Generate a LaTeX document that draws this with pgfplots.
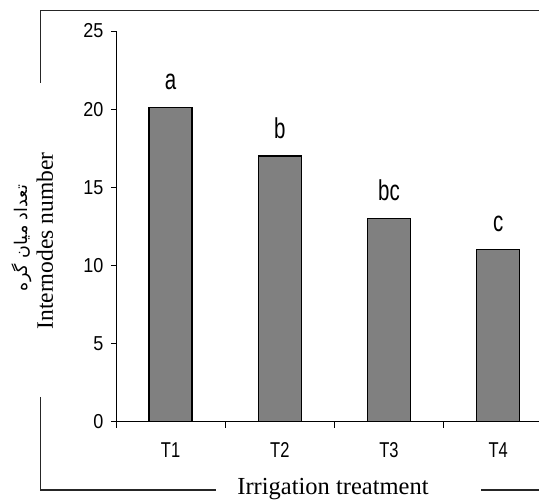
\documentclass[border=0pt]{standalone}
\usepackage{fontspec}
\setmainfont{Liberation Serif}
\newfontfamily\arialf{Liberation Sans}
\newfontfamily\arabicfont[Script=Arabic]{DejaVu Sans}
\TeXXeTstate=1
\usepackage{graphicx}
\usepackage{pgfplots}
\pgfplotsset{compat=1.18}
\definecolor{barfill}{HTML}{808080}
\definecolor{framec}{HTML}{262626}

\begin{document}
\begin{tikzpicture}[x=1pt,y=1pt]
\begin{axis}[
    name=ax,
    scale only axis,
    width=436.8pt, height=390.7pt,
    xmin=0.5, xmax=4.5,
    ymin=0, ymax=25,
    axis x line=bottom, axis y line=left,
    axis line style={-, line width=0.9pt, black},
    ybar, bar width=43pt,
    xtick={1,2,3,4},
    xticklabels={\scalebox{1}[1.3]{T1},\scalebox{1}[1.3]{T2},\scalebox{1}[1.3]{T3},\scalebox{1}[1.3]{T4}},
    minor xtick={0.5,1.5,2.5,3.5,4.5},
    major x tick style={draw=none},
    ytick={0,5,10,15,20,25},
    yticklabel={\scalebox{1}[1.12]{\pgfmathprintnumber{\tick}}},
    tick align=outside,
    major tick length=5pt,
    minor tick length=6pt,
    tick style={black, line width=0.9pt},
    /pgf/number format/assume math mode=true,
    yticklabel style={font=\arialf\fontsize{18}{18}\selectfont, xshift=-4pt},
    xticklabel style={font=\arialf\fontsize{16.5}{17}\selectfont, anchor=base, yshift=-31pt},
]
\coordinate (O) at (axis cs:0.5,0);
\addplot[fill=barfill, draw=black, line width=1.2pt,
    nodes near coords={\scalebox{1}[1.4]{\pgfplotspointmeta}},
    point meta=explicit symbolic,
    every node near coord/.append style={font=\arialf\fontsize{20.5}{21}\selectfont, anchor=base, inner sep=0, yshift=18pt}]
coordinates {(1,20.1)[a] (2,17)[b] (3,13)[bc] (4,11)[c]};
\end{axis}

\begin{scope}[shift={(O)}, shift={(-116,-78.3)}]
% outer frame pieces
\draw[framec, line width=1.1pt] (40.7,417) -- (40.7,489.5) -- (545,489.5);
\draw[framec, line width=1.1pt] (40.7,103) -- (40.7,10) -- (216,10);
\draw[framec, line width=1.1pt] (481,10) -- (545,10);
\node[anchor=base, font=\fontsize{24.5}{25}\selectfont, inner sep=0] at (333,5.5) {Irrigation treatment};
\node[anchor=base, rotate=90, font=\fontsize{23.5}{24}\selectfont, inner sep=0] at (53,259) {Internodes number};
\node[anchor=base, rotate=90, font=\arabicfont\fontsize{17.5}{18}\selectfont, inner sep=0] at (28,262) {\beginR تعداد میان گره\endR};
\pgfresetboundingbox
\useasboundingbox (0,0) rectangle (539,500);
\end{scope}
\end{tikzpicture}
\end{document}
